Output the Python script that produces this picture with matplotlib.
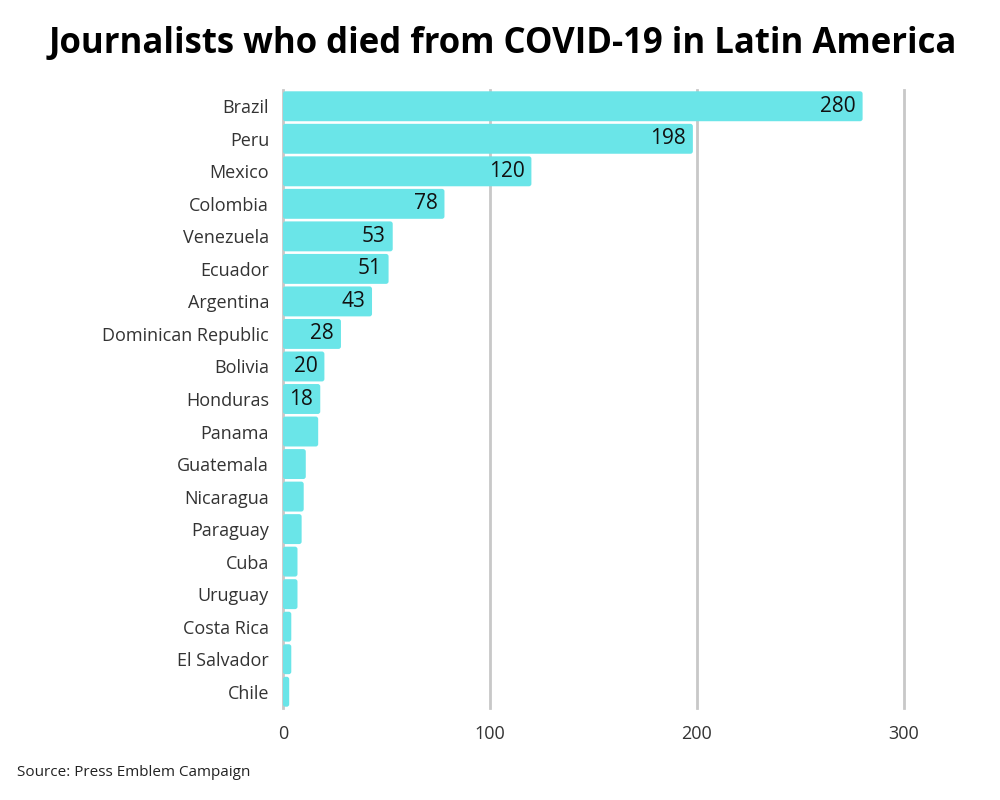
import matplotlib.pyplot as plt
from matplotlib.patches import FancyBboxPatch

countries = ['Brazil', 'Peru', 'Mexico', 'Colombia', 'Venezuela', 'Ecuador', 'Argentina',
             'Dominican Republic', 'Bolivia', 'Honduras', 'Panama', 'Guatemala', 'Nicaragua',
             'Paraguay', 'Cuba', 'Uruguay', 'Costa Rica', 'El Salvador', 'Chile']
deaths = [280, 198, 120, 78, 53, 51, 43, 28, 20, 18, 17, 11, 10, 9, 7, 7, 4, 4, 3]
x_ticks = [0, 100, 200, 300]

bar_color = '#6ae5e8'
grid_color = '#c8c8c8'

plt.rcParams['font.family'] = ['Open Sans', 'DejaVu Sans']

fig = plt.figure(figsize=(10, 8), dpi=100)
ax = fig.add_axes([0.283, 0.115, 0.621, 0.7725])

ypos = list(range(len(countries)))
bars = ax.barh(ypos, deaths, height=0.92, color=bar_color, zorder=2)

# swap the plain rectangles for slightly rounded ones
px_x = 0.621 * 1000 / 300
px_y = 0.7725 * 800 / len(countries)
for rect in bars:
    x, y = rect.get_xy()
    w, h = rect.get_width(), rect.get_height()
    rect.set_visible(False)
    ax.add_patch(FancyBboxPatch((x, y), w, h, boxstyle='round,pad=0,rounding_size=1.2',
                                mutation_aspect=px_x / px_y, facecolor=bar_color,
                                edgecolor='none', zorder=2))

# only the bigger bars get a value label
for y, v in zip(ypos, deaths):
    if v >= 18:
        ax.text(v - 3.3, y, str(v), ha='right', va='center', fontsize=15,
                color='#111111', zorder=3)

ax.set_ylim(len(countries) - 0.5, -0.5)
ax.set_xlim(0, 300)
ax.set_yticks(ypos)
ax.set_yticklabels(countries, fontsize=13, color='#333333')
ax.set_xticks(x_ticks)
ax.set_xticklabels([str(t) for t in x_ticks], fontsize=13, color='#333333')
ax.tick_params(axis='x', length=0, pad=12)
ax.tick_params(axis='y', length=0, pad=10)

for t in x_ticks:
    ax.axvline(t, color=grid_color, linewidth=2, zorder=1, clip_on=False)

for s in ax.spines.values():
    s.set_visible(False)

fig.text(0.503, 0.945, 'Journalists who died from COVID-19 in Latin America', ha='center', va='center',
         fontsize=25, fontweight='bold', color='black')
fig.text(0.017, 0.034, 'Source: Press Emblem Campaign', ha='left', va='center', fontsize=11, color='#222222')

fig.savefig('out.png', dpi=100)
